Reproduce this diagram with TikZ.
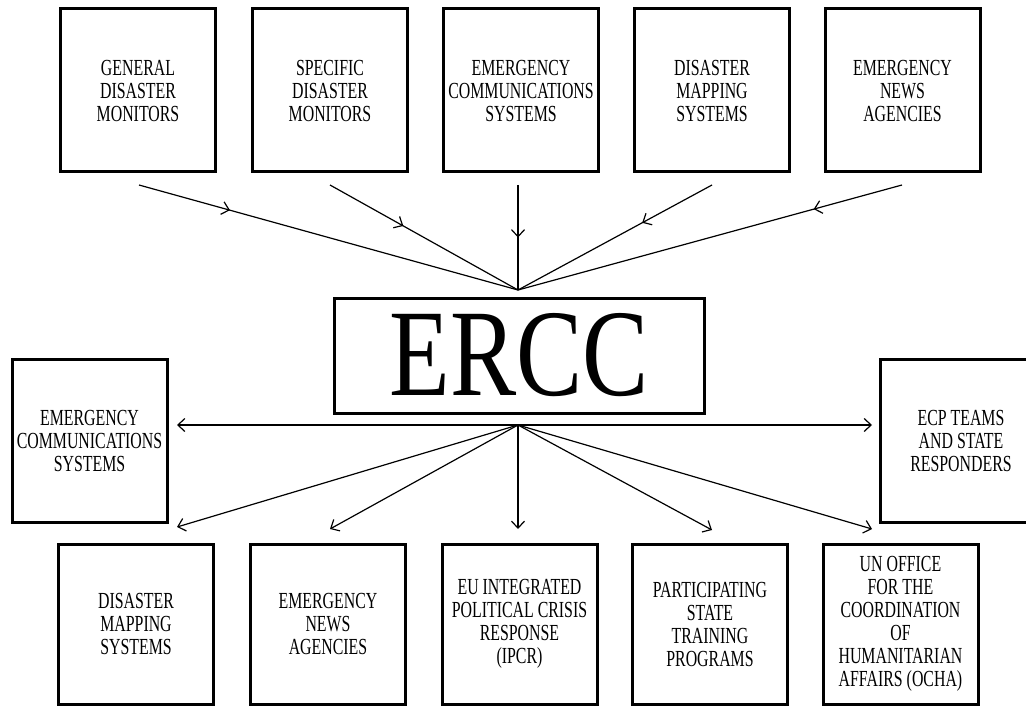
\documentclass[tikz,border=0pt]{standalone}
\usepackage{fontspec}
\usetikzlibrary{arrows.meta,decorations.markings,calc}
\newfontfamily\boxfont[FakeStretch=0.69]{Liberation Serif}
\newfontfamily\erccfont[FakeStretch=0.8]{Liberation Serif}
\tikzset{
  tip/.tip={Straight Barb[length=7pt,width=13pt,line width=1.2pt]},
  box/.style={draw,line width=3pt,minimum width=155pt,minimum height=163pt,inner sep=0pt,outer sep=0pt,align=center,font=\boxfont\fontsize{23}{23}\selectfont},
  conn/.style={line width=1.2pt},
  midarr/.style={postaction={decorate,decoration={markings,mark=at position #1 with {\arrow{tip}}}}},
}
\begin{document}
\begin{tikzpicture}[x=1pt,y=-1pt]
\useasboundingbox (0,0) rectangle (1026,706);
\clip (0,0) rectangle (1026,706);
% top boxes
\node[box] (t1) at (138,90.5) {GENERAL\\DISASTER\\MONITORS};
\node[box] (t2) at (330,90.5) {SPECIFIC\\DISASTER\\MONITORS};
\node[box] (t3) at (521,90.5) {EMERGENCY\\COMMUNICATIONS\\SYSTEMS};
\node[box] (t4) at (712,90.5) {DISASTER\\MAPPING\\SYSTEMS};
\node[box] (t5) at (902.5,90.5) {EMERGENCY\\NEWS\\AGENCIES};
% centre
\node[draw,line width=3pt,minimum width=370pt,minimum height=115pt,inner sep=0pt,outer sep=0pt,font=\erccfont\fontsize{124}{124}\selectfont] (ercc) at (519,355.5) {ERCC};
% side boxes
\node[box] (s1) at (89.5,441) {EMERGENCY\\COMMUNICATIONS\\SYSTEMS};
\node[box,minimum width=162pt] (s2) at (961,441) {ECP TEAMS\\AND STATE\\RESPONDERS};
% bottom boxes
\node[box,minimum height=160pt] (b1) at (136,624) {DISASTER\\MAPPING\\SYSTEMS};
\node[box,minimum height=160pt] (b2) at (328,624) {EMERGENCY\\NEWS\\AGENCIES};
\node[box,minimum height=160pt] (b3) at (519.5,624) {EU INTEGRATED\\POLITICAL CRISIS\\RESPONSE\\(IPCR)};
\node[box,minimum height=160pt] (b4) at (710,624) {PARTICIPATING\\STATE\\TRAINING\\PROGRAMS};
\node[box,minimum height=160pt] (b5) at (900.5,624) {UN OFFICE\\FOR THE\\COORDINATION\\OF\\HUMANITARIAN\\AFFAIRS (OCHA)};
% hubs
\coordinate (in) at (518,290);
\coordinate (out) at (518,425);
% incoming connectors
\draw[conn,midarr=0.24] ($(t1.south)+(1,13)$) -- (in);
\draw[conn,midarr=0.39] ($(t2.south)+(0,13)$) -- (in);
\draw[conn,midarr=0.5] ($(t3.south)+(-3,13)$) -- (in);
\draw[conn,midarr=0.36] ($(t4.south)+(0,13)$) -- (in);
\draw[conn,midarr=0.23] ($(t5.south)+(-0.5,13)$) -- (in);
% outgoing connectors
\coordinate (eS1) at ($(s1.east |- out)+(10,0)$);
\coordinate (eS2) at ($(s2.west |- out)+(-8,0)$);
\coordinate (eB1) at (177,527);
\coordinate (eB2) at ($(b2.north)+(2,-15)$);
\coordinate (eB3) at ($(b3.north)+(-1.5,-15)$);
\coordinate (eB4) at ($(b4.north)+(2,-14)$);
\coordinate (eB5) at (872,529);
\draw[conn,-tip] (out) -- (eS1);
\draw[conn,-tip] (out) -- (eS2);
\draw[conn,-tip] (out) -- (eB1);
\draw[conn,-tip] (out) -- (eB2);
\draw[conn,-tip] (out) -- (eB3);
\draw[conn,-tip] (out) -- (eB4);
\draw[conn,-tip] (out) -- (eB5);
\end{tikzpicture}
\end{document}
